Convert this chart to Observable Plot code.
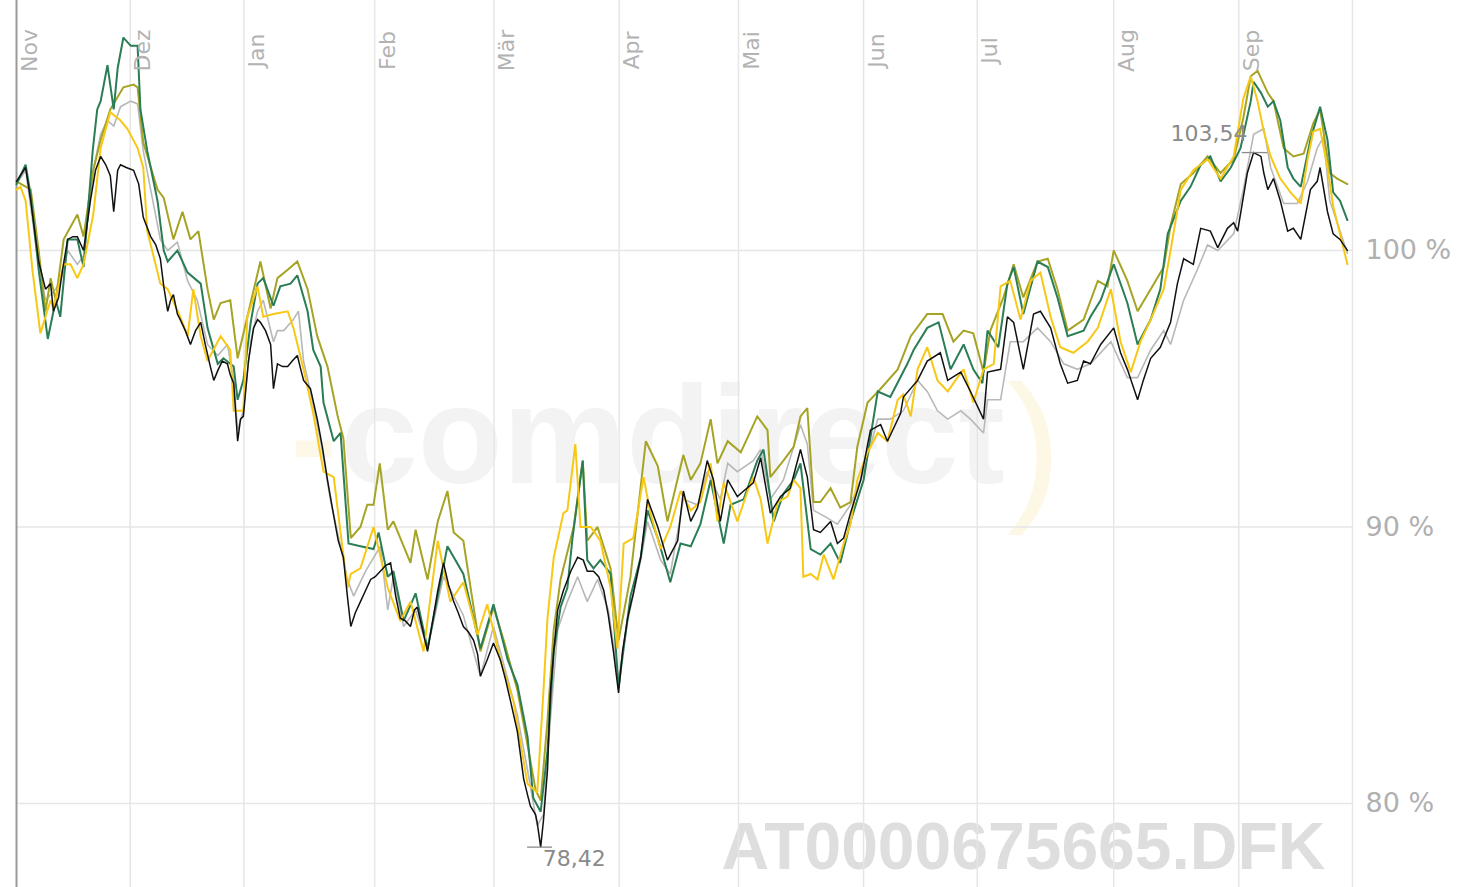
<!DOCTYPE html>
<html>
<head>
<meta charset="utf-8">
<script src="https://cdn.jsdelivr.net/npm/d3@7"></script>
<script src="https://cdn.jsdelivr.net/npm/@observablehq/plot@0.6"></script>
<style>
  html, body { margin: 0; padding: 0; background: #ffffff; overflow: hidden; }
  #chart svg { display: block; }
</style>
</head>
<body>
<div id="chart"></div>
<script>
// x = trading day counted from 1 Nov, y = performance in %
const monthLabels = ["Nov", "Dez", "Jan", "Feb", "Mär", "Apr", "Mai", "Jun", "Jul", "Aug", "Sep"];
const monthStarts = [0, 20, 40, 63, 84, 106, 127, 149, 169, 193, 215, 235];
const yTicks = [80, 90, 100];
const isin = "AT0000675665.DFK";

const blackSeries = [[0,102.5],[1.6,103.0],[2.5,101.8],[3.9,99.6],[5.1,98.6],[6.0,98.8],[6.5,97.8],[7.4,98.3],[8.1,99.3],[9.0,100.4],[9.9,100.5],[10.7,100.5],[11.8,100.0],[13.0,101.8],[13.9,102.9],[14.8,103.4],[15.7,103.1],[16.5,102.7],[17.1,101.4],[17.8,102.9],[18.3,103.1],[19.3,103.0],[20.6,102.9],[21.5,102.4],[22.3,101.2],[23.6,100.5],[24.5,100.2],[25.3,99.7],[25.9,98.7],[26.6,97.8],[27.1,98.2],[27.6,98.4],[28.3,97.7],[28.8,97.5],[29.7,97.1],[30.6,96.6],[31.5,97.1],[32.4,97.4],[33.2,96.6],[34.1,95.8],[34.7,95.3],[35.5,95.7],[36.2,96.0],[37.1,95.9],[37.6,95.5],[38.2,95.2],[38.9,93.1],[39.4,93.9],[39.9,94.0],[40.8,96.0],[41.7,97.2],[42.4,97.5],[42.9,97.4],[43.8,97.1],[44.7,96.6],[45.2,95.0],[45.9,95.9],[46.8,95.8],[47.7,95.8],[48.5,96.0],[49.4,96.2],[50.0,95.7],[50.5,95.3],[51.7,95.0],[52.9,93.9],[53.8,92.9],[54.7,91.7],[55.8,90.4],[56.6,89.5],[57.5,88.9],[58.2,87.5],[58.8,86.4],[59.6,86.9],[60.5,87.3],[61.4,87.7],[62.3,88.1],[63.1,88.2],[64.0,88.4],[64.9,88.6],[65.8,88.7],[66.7,87.5],[67.5,86.7],[68.4,86.6],[69.3,86.4],[70.0,87.0],[70.5,87.1],[71.4,86.3],[72.3,85.5],[73.2,86.6],[74.1,87.7],[75.1,88.7],[76.0,87.9],[76.9,87.3],[77.7,86.9],[78.6,86.4],[79.5,86.2],[80.4,85.9],[81.1,85.4],[81.6,84.6],[82.8,85.2],[83.9,85.8],[85.1,85.2],[86.0,84.5],[86.9,83.7],[88.1,82.6],[89.2,80.9],[89.9,80.3],[90.4,79.9],[91.3,79.6],[91.6,79.3],[92.2,78.42],[92.7,79.4],[93.4,81.2],[93.9,84.0],[94.5,85.5],[95.2,87.0],[96.2,87.7],[97.5,88.4],[98.7,88.9],[99.7,88.8],[100.4,88.4],[101.5,88.4],[102.4,88.2],[103.3,87.7],[104.1,86.8],[105.0,85.5],[105.9,84.0],[106.6,85.5],[107.5,86.7],[108.5,87.6],[109.8,88.9],[111.0,91.0],[112.8,90.0],[114.5,88.8],[116.3,89.5],[117.3,91.3],[118.6,90.2],[119.8,90.7],[121.5,92.4],[122.6,91.7],[123.8,90.2],[125.1,91.7],[126.8,91.1],[127.9,91.3],[129.6,91.6],[130.9,92.5],[132.6,90.5],[134.4,91.1],[136.1,91.4],[137.9,92.8],[139.1,91.8],[140.2,89.9],[141.4,89.8],[143.2,90.2],[144.4,89.4],[145.5,89.6],[146.7,90.5],[148.5,91.7],[150.2,93.5],[152.0,93.7],[153.2,93.1],[155.5,94.1],[156.0,94.7],[158.5,95.3],[160.2,96.0],[162.5,96.3],[163.8,95.3],[166.1,95.6],[167.8,94.9],[170.1,93.9],[170.8,95.6],[173.1,95.7],[174.3,97.6],[175.4,97.4],[177.1,95.7],[178.9,97.7],[180.1,97.8],[181.9,97.2],[183.6,95.9],[184.9,95.2],[186.6,95.3],[187.7,96.0],[188.9,95.9],[190.7,96.6],[193.0,97.2],[194.2,96.3],[195.4,95.7],[197.2,94.6],[198.2,95.3],[199.5,96.1],[201.2,96.5],[203.0,97.4],[204.2,98.8],[205.3,99.7],[207.0,99.5],[208.3,100.8],[210.0,100.7],[211.3,100.1],[213.0,100.8],[214.1,101.0],[214.8,100.7],[216.5,102.8],[217.6,103.54],[218.9,103.4],[219.4,102.8],[220.1,102.2],[221.1,102.6],[222.3,101.8],[223.6,100.7],[224.6,100.8],[225.9,100.4],[227.6,102.2],[228.8,102.5],[229.3,103.0],[230.6,101.4],[231.6,100.6],[232.8,100.4],[234.1,100.0]];

const graySeries = [[0,102.4],[1.6,102.9],[3.9,99.5],[5.1,98.2],[6.9,98.6],[8.1,99.1],[9.0,100.0],[10.7,99.5],[11.8,99.8],[13.5,102.9],[14.8,104.2],[16.0,104.7],[17.1,104.5],[18.3,105.2],[20.1,105.4],[21.3,105.3],[22.3,103.6],[23.6,102.2],[25.3,100.4],[26.6,100.0],[28.3,100.3],[30.1,98.9],[31.8,98.2],[33.6,96.6],[35.4,96.2],[37.1,96.6],[38.2,95.3],[38.9,93.5],[39.9,94.2],[41.2,96.7],[42.4,97.8],[43.4,98.2],[45.2,96.7],[45.9,97.1],[47.0,97.1],[48.7,97.5],[49.6,97.8],[50.5,96.0],[51.7,94.9],[53.5,93.1],[55.2,91.0],[57.0,89.3],[58.2,88.1],[59.3,87.5],[61.4,88.4],[64.0,89.3],[65.3,87.0],[66.3,88.2],[68.1,86.4],[70.2,87.0],[72.3,85.6],[75.1,88.2],[76.9,87.5],[78.6,86.8],[81.6,84.6],[83.9,86.4],[86.4,84.5],[88.1,83.2],[89.9,81.2],[91.6,79.2],[92.7,79.6],[93.9,83.0],[95.2,86.3],[96.9,87.3],[98.7,88.2],[100.4,87.3],[102.2,88.1],[104.1,87.0],[105.9,84.5],[107.5,86.6],[109.8,88.8],[111.0,90.2],[113.3,88.8],[115.0,88.3],[117.3,91.0],[119.8,90.8],[121.5,92.0],[123.8,91.0],[125.1,92.3],[126.8,92.0],[129.6,92.4],[130.9,92.8],[132.6,91.0],[134.9,91.7],[137.9,93.7],[139.1,93.0],[140.2,90.6],[142.0,90.4],[144.4,90.1],[146.7,90.8],[149.0,92.0],[151.5,93.9],[153.7,93.9],[156.0,94.2],[158.5,95.3],[160.2,94.9],[162.0,94.2],[163.8,93.9],[166.1,94.2],[167.8,93.9],[170.1,93.4],[170.8,94.6],[173.1,94.6],[174.8,96.7],[177.1,96.7],[179.6,97.2],[181.9,96.7],[184.2,95.9],[186.6,95.7],[188.9,95.9],[192.5,96.7],[195.4,95.4],[197.2,95.4],[199.5,96.4],[201.8,97.1],[203.0,96.6],[205.3,98.2],[207.7,99.3],[209.5,100.2],[211.3,100.0],[214.1,100.6],[215.8,102.2],[217.6,104.2],[219.4,104.4],[220.6,103.0],[222.9,101.7],[225.3,101.7],[227.1,102.5],[228.8,103.7],[229.9,104.1],[231.0,101.8],[232.8,100.7],[234.1,99.9]];

const greenSeries = [[0,102.4],[1.6,103.1],[2.5,102.0],[3.9,99.3],[5.5,96.8],[6.9,98.2],[7.7,97.6],[9.0,100.4],[10.7,100.4],[11.8,99.4],[13.4,103.6],[14.2,105.1],[14.8,105.4],[16.0,106.7],[17.1,105.1],[17.8,106.6],[18.8,107.7],[20.1,107.4],[21.3,107.4],[21.8,105.1],[23.0,103.6],[24.8,101.8],[25.9,100.0],[26.6,99.6],[28.3,100.0],[30.1,99.2],[32.4,98.8],[33.6,97.2],[35.4,95.9],[36.4,96.1],[38.2,95.8],[38.9,94.6],[39.9,95.3],[41.2,97.4],[42.4,98.8],[43.4,99.0],[45.2,98.0],[46.4,98.7],[48.2,98.8],[49.4,99.1],[51.2,97.8],[52.2,96.4],[53.5,95.8],[54.0,94.5],[55.8,93.1],[57.0,93.4],[58.4,89.4],[60.5,89.3],[62.8,89.2],[63.7,89.8],[65.3,88.2],[66.3,88.4],[68.1,86.6],[70.2,87.6],[72.3,85.6],[75.8,89.3],[78.6,88.3],[81.6,85.6],[83.9,87.2],[86.4,85.2],[88.1,84.3],[89.9,82.4],[90.9,80.2],[92.2,79.7],[93.4,81.9],[94.5,85.5],[95.7,87.1],[96.9,87.8],[97.8,89.6],[99.6,92.4],[100.4,88.8],[101.5,88.5],[102.7,88.8],[104.5,88.3],[105.9,84.2],[108.0,87.5],[109.8,88.9],[111.0,90.6],[112.8,89.6],[115.0,88.0],[116.8,89.4],[118.6,89.3],[120.3,90.1],[122.1,91.7],[124.4,89.4],[125.6,90.8],[127.9,91.0],[130.3,92.4],[131.4,92.8],[133.2,90.2],[134.9,91.2],[136.7,91.7],[137.9,92.3],[139.7,89.2],[141.4,89.0],[143.2,89.4],[144.9,88.7],[146.7,90.2],[149.0,91.7],[151.5,94.9],[153.7,94.7],[156.7,95.9],[157.8,96.4],[160.2,97.2],[162.2,97.4],[164.3,95.7],[166.6,96.6],[168.3,95.7],[169.9,95.2],[170.8,97.1],[172.7,96.5],[174.3,98.8],[175.4,99.4],[177.1,97.7],[179.6,99.6],[181.4,99.4],[183.1,98.3],[184.9,96.9],[187.7,97.1],[188.9,97.6],[190.7,98.2],[193.0,99.5],[195.4,98.1],[197.2,96.6],[199.5,97.5],[201.2,98.6],[202.5,100.6],[204.8,101.8],[206.5,102.3],[208.3,103.1],[210.0,103.4],[211.8,102.5],[213.6,103.0],[215.3,103.7],[217.1,105.4],[217.6,106.1],[218.9,105.7],[220.1,105.2],[221.1,105.4],[222.3,104.7],[223.6,103.0],[224.6,102.6],[225.9,102.3],[227.6,104.0],[229.3,105.2],[230.6,104.0],[231.6,102.1],[232.8,101.8],[234.1,101.1]];

const oliveSeries = [[0,102.5],[2.5,102.2],[3.9,100.0],[5.1,97.8],[6.0,99.0],[6.9,98.2],[8.3,100.4],[10.7,101.3],[11.8,100.5],[13.5,102.9],[14.8,104.0],[16.5,105.1],[18.8,105.9],[20.6,106.0],[21.3,105.9],[22.3,103.9],[24.8,102.2],[25.9,101.9],[27.6,100.4],[29.2,101.4],[30.6,100.4],[32.0,100.7],[33.6,98.6],[34.7,97.5],[35.9,98.1],[37.6,98.2],[38.9,96.1],[40.6,97.6],[42.9,99.6],[44.7,97.9],[45.9,99.0],[47.7,99.3],[49.4,99.6],[51.2,98.6],[52.9,96.9],[54.7,95.8],[56.5,94.0],[57.5,93.2],[58.8,89.6],[60.5,90.0],[61.7,90.8],[62.8,90.8],[63.9,92.3],[65.3,89.9],[66.3,90.2],[69.3,88.7],[70.2,89.9],[72.3,88.1],[74.1,90.2],[75.8,91.3],[76.9,89.8],[78.6,89.5],[81.6,85.5],[83.9,87.1],[85.7,85.9],[88.1,84.1],[89.9,82.1],[91.3,80.5],[92.2,80.1],[93.4,83.0],[94.5,86.3],[95.7,88.1],[98.0,90.0],[99.6,92.4],[100.4,89.5],[102.2,90.0],[104.5,88.5],[105.9,85.9],[108.0,88.2],[110.7,93.1],[112.8,92.2],[114.5,90.2],[117.3,92.6],[118.6,91.7],[120.3,92.3],[122.1,93.9],[123.3,92.3],[125.1,93.1],[127.4,92.7],[130.3,94.0],[132.1,93.5],[132.6,91.8],[134.9,92.4],[136.7,92.9],[137.9,94.0],[139.1,94.3],[140.2,90.9],[141.4,90.9],[143.2,91.4],[144.9,90.7],[146.7,90.9],[147.9,92.9],[149.7,94.5],[152.0,95.0],[155.0,95.7],[157.3,96.9],[160.2,97.7],[162.9,97.7],[164.8,96.7],[166.6,97.1],[168.3,97.0],[170.1,95.6],[171.3,97.1],[173.6,98.3],[175.4,99.5],[177.1,98.3],[179.6,99.6],[181.4,99.7],[183.1,98.6],[184.9,97.1],[187.7,97.5],[190.2,98.9],[191.9,98.7],[193.0,100.0],[195.4,98.9],[197.2,97.8],[199.5,98.6],[201.8,99.4],[203.0,100.9],[204.8,102.4],[207.0,102.8],[209.5,103.4],[211.8,102.8],[214.1,103.3],[215.8,104.8],[217.1,106.3],[218.3,106.5],[220.1,105.7],[221.1,105.4],[222.9,103.7],[224.6,103.4],[226.4,103.5],[228.1,104.6],[229.3,105.1],[231.0,102.8],[232.3,102.6],[234.1,102.4]];

const yellowSeries = [[0,102.2],[0.7,102.3],[1.6,101.8],[2.8,99.3],[4.2,97.0],[5.1,97.6],[6.0,98.2],[6.5,97.9],[8.3,99.5],[9.5,99.5],[10.7,99.0],[11.8,99.5],[13.5,101.3],[14.8,103.7],[16.5,105.0],[18.3,104.7],[19.5,104.4],[21.3,103.7],[22.3,103.0],[23.0,100.7],[24.1,99.8],[25.3,98.8],[26.6,98.6],[28.8,97.6],[30.1,96.9],[31.1,98.6],[32.4,96.9],[33.6,96.0],[35.9,96.9],[37.6,96.4],[38.2,94.2],[39.9,94.2],[40.6,97.6],[42.4,98.7],[43.4,97.6],[45.2,97.7],[47.7,97.8],[48.7,97.2],[50.5,95.7],[52.2,94.1],[54.0,92.0],[55.8,91.8],[58.2,87.8],[58.8,88.3],[60.5,88.5],[62.8,90.0],[65.3,87.8],[67.5,86.6],[69.3,87.3],[71.6,85.5],[74.1,89.5],[76.3,87.3],[78.6,88.0],[81.1,86.1],[82.8,87.2],[85.1,85.2],[87.4,83.7],[89.9,80.7],[91.6,80.4],[92.7,84.1],[93.4,86.7],[94.5,88.9],[96.2,90.5],[96.9,90.6],[98.3,93.0],[99.2,90.0],[101.0,90.0],[102.7,89.5],[104.5,87.8],[105.7,85.6],[106.8,89.4],[108.5,89.6],[110.3,91.8],[111.5,90.5],[113.3,89.2],[115.0,90.0],[116.8,91.3],[118.6,90.6],[120.3,90.9],[122.1,92.3],[123.3,90.2],[124.4,91.6],[126.8,90.2],[128.6,91.3],[129.6,91.8],[130.9,91.0],[132.1,89.4],[133.9,90.9],[135.6,91.1],[136.7,91.7],[137.9,91.4],[138.4,88.2],[139.7,88.3],[140.9,88.1],[142.0,89.0],[143.7,88.1],[145.5,89.4],[146.7,90.1],[147.9,91.7],[149.7,92.7],[151.5,93.4],[153.2,93.1],[155.0,94.6],[156.0,94.8],[157.3,94.0],[158.5,95.7],[160.2,96.5],[162.0,95.3],[163.8,94.9],[165.5,95.4],[166.6,95.7],[168.3,94.5],[170.1,95.7],[171.9,95.9],[173.1,98.7],[174.8,98.9],[176.6,97.5],[178.4,98.9],[180.1,99.2],[181.9,97.6],[183.6,96.5],[185.9,96.3],[188.4,96.7],[190.2,97.2],[192.5,98.6],[194.2,96.7],[196.0,95.6],[197.7,96.7],[199.5,97.5],[201.8,98.6],[203.0,100.0],[204.8,102.2],[207.0,102.9],[209.5,103.3],[211.8,102.6],[214.1,103.4],[215.8,105.5],[217.1,106.3],[218.3,105.4],[219.4,104.3],[220.6,103.4],[222.3,102.6],[224.1,102.1],[225.9,101.7],[227.1,103.3],[228.1,104.3],[229.3,104.4],[230.6,103.0],[231.6,101.6],[232.8,100.6],[234.1,99.5]];

// draw order, colours and widths
const layers = [
  {data: graySeries,   stroke: "#b8b8b8", width: 1.6},
  {data: oliveSeries,  stroke: "#a6a424", width: 2},
  {data: greenSeries,  stroke: "#2a7d55", width: 2},
  {data: yellowSeries, stroke: "#f7c815", width: 2},
  {data: blackSeries,  stroke: "#111111", width: 1.5}
];

const maxPt = d3.greatest(blackSeries, d => d[1]);
const minPt = d3.least(blackSeries, d => d[1]);
const fmt = v => v.toFixed(2).replace(".", ",");
const labelFont = "'DejaVu Sans', Verdana, sans-serif";
const markFont = "'Liberation Sans', Arial, sans-serif";

const chart = Plot.plot({
  width: 1470,
  height: 887,
  marginLeft: 16,
  marginRight: 118,
  marginTop: 0,
  marginBottom: 0,
  x: {domain: [0, 235], axis: null},
  y: {domain: [76.96, 109.04], axis: null},
  style: {background: "#ffffff", fontFamily: labelFont},
  marks: [
    // watermarks
    Plot.text(["-"], {frameAnchor: "top-left", dx: 274, dy: 484, textAnchor: "start", lineAnchor: "bottom",
      fontFamily: markFont, fontWeight: "bold", fontSize: 139, fill: "#fdf8e8"}),
    Plot.text(["comdirect"], {frameAnchor: "top-left", dx: 324, dy: 482, textAnchor: "start", lineAnchor: "bottom",
      fontFamily: markFont, fontWeight: "bold", fontSize: 139, fill: "#f3f3f3"}),
    Plot.text([")"], {frameAnchor: "top-left", dx: 990, dy: 500, textAnchor: "start", lineAnchor: "bottom",
      fontFamily: markFont, fontSize: 165, fill: "#fdf8e6"}),
    Plot.text([isin], {frameAnchor: "bottom-right", dx: -27, dy: -19, textAnchor: "end", lineAnchor: "bottom",
      fontFamily: markFont, fontWeight: "bold", fontSize: 66, fill: "#dedede"}),
    // grid
    Plot.ruleX(monthStarts.slice(1), {stroke: "#e6e6e6", strokeWidth: 1.5}),
    Plot.ruleY(yTicks, {stroke: "#e6e6e6", strokeWidth: 1.5}),
    Plot.ruleX([monthStarts[0]], {stroke: "#999999", strokeWidth: 2}),
    // series
    ...layers.map(l => Plot.line(l.data, {x: d => d[0], y: d => d[1], stroke: l.stroke, strokeWidth: l.width,
      strokeLinejoin: "miter", strokeMiterlimit: 2})),
    // month labels
    Plot.text(monthLabels, {x: (d, i) => monthStarts[i], frameAnchor: "top", dy: 50, dx: 13, rotate: -90,
      textAnchor: "middle", lineAnchor: "middle", fontSize: 22, fill: "#b3b3b3", letterSpacing: "1px"}),
    // y tick labels on the right
    Plot.text(yTicks, {y: d => d, text: d => `${d} %`, frameAnchor: "right", dx: 13, textAnchor: "start",
      lineAnchor: "middle", fontSize: 27, fill: "#b0b0b0", letterSpacing: "2px"}),
    // max / min annotations
    Plot.ruleY([maxPt], {y: d => d[1], x1: d => d[0] - 2, x2: d => d[0] + 2.5, stroke: "#8c8c8c", strokeWidth: 1.3}),
    Plot.text([maxPt], {x: d => d[0], y: d => d[1], text: d => fmt(d[1]), textAnchor: "end", lineAnchor: "bottom",
      dx: -6, dy: -12, fontSize: 22, fill: "#8a8a8a"}),
    Plot.ruleY([minPt], {y: d => d[1], x1: d => d[0] - 2.3, x2: d => d[0] + 2.1, stroke: "#8c8c8c", strokeWidth: 1.3}),
    Plot.text([minPt], {x: d => d[0], y: d => d[1], text: d => fmt(d[1]), textAnchor: "start", lineAnchor: "top",
      dx: 2, dy: 3, fontSize: 22, fill: "#8a8a8a"})
  ]
});
document.getElementById("chart").appendChild(chart);
</script>
</body>
</html>
